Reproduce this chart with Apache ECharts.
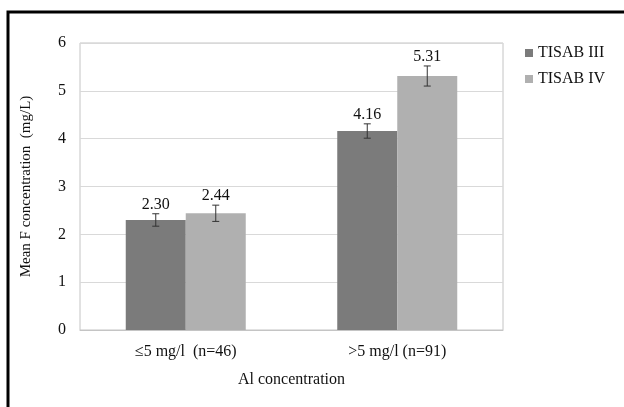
<!DOCTYPE html>
<html>
<head>
<meta charset="utf-8">
<script src="https://cdn.jsdelivr.net/npm/echarts@6/dist/echarts.min.js"></script>
<style>
  html, body { margin: 0; padding: 0; background: #fff; }
  #main { width: 624px; height: 407px; }
</style>
</head>
<body>
<div id="main"></div>
<script>
// data
const categories = ['\u22645 mg/l  (n=46)', '>5 mg/l (n=91)'];
const seriesNames = ['TISAB III', 'TISAB IV'];
const tisab3 = [2.30, 4.16];
const tisab4 = [2.44, 5.31];
const err3 = [0.13, 0.15];
const err4 = [0.17, 0.21];
const yTicks = [0, 1, 2, 3, 4, 5, 6];

const font = "'Liberation Serif', 'Times New Roman', serif";
const colors = ['#7b7b7b', '#b0b0b0'];
const barW = 60;

var myChart = echarts.init(document.getElementById('main'));

// error bar + value label, drawn above each bar
function errSeries(vals, errs, side) {
  return {
    type: 'custom',
    z: 10,
    silent: true,
    data: vals.map((v, i) => [i, v, errs[i]]),
    renderItem: function (params, api) {
      const idx = api.value(0), v = api.value(1), e = api.value(2);
      const c = api.coord([idx, v]);
      const x = c[0] + side * barW / 2;
      const yHi = api.coord([idx, v + e])[1];
      const yLo = api.coord([idx, v - e])[1];
      const style = { stroke: '#333', lineWidth: 1 };
      return {
        type: 'group',
        children: [
          { type: 'line', shape: { x1: x, y1: yHi, x2: x, y2: yLo }, style: style },
          { type: 'line', shape: { x1: x - 3.5, y1: yHi, x2: x + 3.5, y2: yHi }, style: style },
          { type: 'line', shape: { x1: x - 3.5, y1: yLo, x2: x + 3.5, y2: yLo }, style: style },
          {
            type: 'text',
            style: {
              text: v.toFixed(2), x: x, y: yHi - 1,
              align: 'center', verticalAlign: 'bottom',
              font: '16px ' + font, fill: '#111'
            }
          }
        ]
      };
    }
  };
}

var option = {
  animation: false,
  color: colors,
  textStyle: { fontFamily: font },
  graphic: [{
    type: 'rect',
    shape: { x: 8, y: 12, width: 700, height: 500 },
    style: { fill: 'none', stroke: '#000', lineWidth: 3 }
  }],
  legend: {
    data: seriesNames,
    orient: 'vertical',
    left: 520,
    top: 40,
    itemWidth: 8,
    itemHeight: 8,
    itemGap: 10,
    icon: 'rect',
    textStyle: { fontFamily: font, fontSize: 16, color: '#111' }
  },
  grid: {
    left: 80, right: 121, top: 43, bottom: 77,
    show: true, borderColor: '#c4c4c4', borderWidth: 1
  },
  xAxis: {
    type: 'category',
    data: categories,
    name: 'Al concentration',
    nameLocation: 'middle',
    nameGap: 42,
    nameTextStyle: { fontFamily: font, fontSize: 16, color: '#111' },
    axisLine: { lineStyle: { color: '#c4c4c4' } },
    axisTick: { show: false },
    axisLabel: { fontFamily: font, fontSize: 16, color: '#111', margin: 14 }
  },
  yAxis: {
    type: 'value',
    min: yTicks[0],
    max: yTicks[yTicks.length - 1],
    interval: 1,
    name: 'Mean F concentration  (mg/L)',
    nameLocation: 'middle',
    nameGap: 46,
    nameTextStyle: { fontFamily: font, fontSize: 15, color: '#111' },
    axisLine: { show: false },
    axisTick: { show: false },
    axisLabel: { fontFamily: font, fontSize: 16, color: '#111', margin: 14 },
    splitLine: { lineStyle: { color: '#d9d9d9' } }
  },
  series: [
    { name: seriesNames[0], type: 'bar', data: tisab3, barWidth: barW, barGap: '0%', itemStyle: { color: colors[0] } },
    { name: seriesNames[1], type: 'bar', data: tisab4, barWidth: barW, barGap: '0%', itemStyle: { color: colors[1] } },
    errSeries(tisab3, err3, -1),
    errSeries(tisab4, err4, 1)
  ]
};

myChart.setOption(option);
</script>
</body>
</html>
